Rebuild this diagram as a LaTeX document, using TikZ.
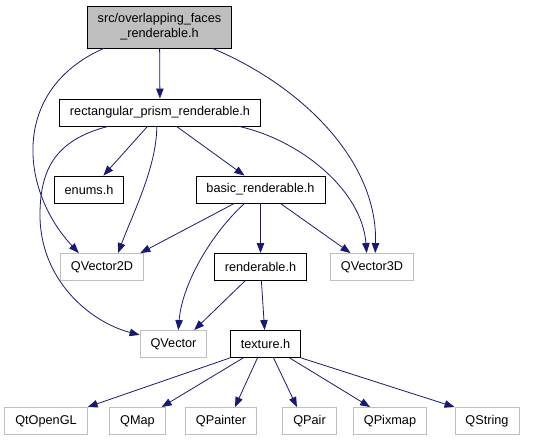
\documentclass[tikz,border=0pt]{standalone}
\usepackage{fontspec}
\setmainfont{Liberation Sans}
\usepackage{tikz}
\usetikzlibrary{arrows.meta}
\definecolor{edgeblue}{HTML}{191970}
\definecolor{softgray}{HTML}{BFBFBF}

\begin{document}
\begin{tikzpicture}[
  x=1pt,y=-1pt,
  font=\fontsize{12.7}{15}\selectfont,
  file/.style={rectangle,draw=black,line width=0.9pt,minimum height=27pt,inner xsep=10.5pt,inner ysep=0pt},
  ext/.style={file,draw=softgray},
  arr/.style={-{Triangle[length=10pt,width=7.5pt]},draw=edgeblue,line width=0.8pt}
]
\useasboundingbox (0,0) rectangle (545,443);
% headers of the project
\node[file,fill=softgray,minimum height=42pt,align=center] (top) at (159.5,27) {src/overlapping\_faces\\\_renderable.h};
\node[file] (rect) at (160,112.5) {rectangular\_prism\_renderable.h};
\node[file] (enums) at (89,189.5) {enums.h};
\node[file] (basic) at (260.5,189.5) {basic\_renderable.h};
\node[file] (rend) at (260.5,267) {renderable.h};
\node[file] (tex) at (265.5,344) {texture.h};
% Qt headers
\node[ext] (v2d) at (102,267) {QVector2D};
\node[ext] (v3d) at (372,267) {QVector3D};
\node[ext] (qvec) at (173.5,344) {QVector};
\node[ext] (qgl) at (46,421) {QtOpenGL};
\node[ext] (qmap) at (137.5,421) {QMap};
\node[ext] (qpainter) at (221,421) {QPainter};
\node[ext] (qpair) at (309.5,421) {QPair};
\node[ext] (qpixmap) at (390,421) {QPixmap};
\node[ext] (qstring) at (487,421) {QString};
% includes
\draw[arr] (top) -- (rect);
\draw[arr] (top.201) .. controls (10,90) and (20,190) .. (v2d.149);
\draw[arr] (top.338) .. controls (300,85) and (378,160) .. (v3d.77);
\draw[arr] (rect.228) -- (enums.44);
\draw[arr] (rect.257) .. controls +(0,40) and +(15,-40) .. (v2d.41);
\draw[arr] (rect.320) -- (basic.139);
\draw[arr] (rect.350) .. controls (300,140) and (362,190) .. (v3d.111);
\draw[arr] (rect.195) .. controls (55,140) and (40,170) .. (40,215)
  .. controls (40,280) and (90,322) .. (qvec.165);
\draw[arr] (basic.208) -- (v2d.20);
\draw[arr] (basic.221) .. controls (210,235) and (182,285) .. (qvec.71);
\draw[arr] (basic) -- (rend);
\draw[arr] (basic.325) -- (v3d.147);
\draw[arr] (rend.222) -- (qvec.34);
\draw[arr] (rend) -- (tex);
\draw[arr] (tex.south west) -- (qgl.north east);
\draw[arr] (tex.212) -- (qmap.30);
\draw[arr] (tex.240) -- (qpainter.45);
\draw[arr] (tex.300) -- (qpair.132);
\draw[arr] (tex.330) -- (qpixmap.145);
\draw[arr] (tex.south east) -- (qstring.north west);
\end{tikzpicture}
\end{document}
